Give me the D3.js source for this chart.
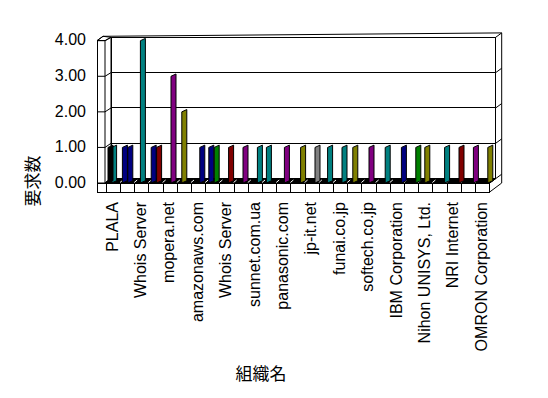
<!DOCTYPE html>
<html>
<head>
<meta charset="utf-8">
<script src="https://cdn.jsdelivr.net/npm/d3@7"></script>
<style>
  body { margin: 0; background: #fff; }
  text { font-family: "Liberation Sans", Arial, sans-serif; fill: #000; }
  .jp { font-family: "Noto Sans CJK JP", sans-serif; }
  .crisp { shape-rendering: crispEdges; }
</style>
</head>
<body>
<div id="chart"></div>
<script>
'use strict';

/*** Data */
/** Every other category gets a label (Excel skips the rest) */
const tickLabels = ["PLALA", "Whois Server", "mopera.net", "amazonaws.com", "Whois Server",
  "sunnet.com.ua", "panasonic.com", "jp-it.net", "funai.co.jp", "softech.co.jp",
  "IBM Corporation", "Nihon UNISYS, Ltd.", "NRI Internet", "OMRON Corporation"];
const categoryCount = 27;
const yTicks = [0, 1, 2, 3, 4];

/** Series, front row to back row (values per category) */
const series0 = [1,1,0,1,0,0,0,1,0,0,0,1,0,0,0,0,0,1,0,0,0,0,1,0,0,0,0];
const series1 = [0,0,0,0,0,2,0,0,0,0,0,0,0,0,0,0,0,0,1,0,0,0,0,0,0,0,0];
const series2 = [1,0,4,0,0,0,0,0,0,0,0,0,1,0,0,1,1,0,0,1,0,0,0,0,0,0,0];
const series3 = [0,1,0,1,3,0,1,1,1,1,1,0,0,1,1,0,0,0,0,0,1,1,0,1,1,1,1];

/** Bar colours (style table, same shape as the series) */
const K = "#000000", N = "#000080", T = "#008080", M = "#800000",
      P = "#800080", O = "#808000", G = "#008000", Y = "#808080";
const colours0 = [K,N,K,N,K,K,K,N,K,K,K,T,K,K,K,K,K,O,K,K,K,K,O,K,K,K,K];
const colours1 = [K,K,K,K,K,O,K,K,K,K,K,K,K,K,K,K,K,K,P,K,K,K,K,K,K,K,K];
const colours2 = [T,K,T,K,K,K,K,K,K,K,K,K,P,K,K,T,T,K,K,T,K,K,K,K,K,K,K];
const colours3 = [K,N,K,M,P,K,N,G,M,P,T,K,K,O,Y,K,K,K,K,K,N,G,K,T,M,P,O];

const seriesList = [series3, series2, series1, series0];
const colourList = [colours3, colours2, colours1, colours0];
const depthSlot = [3, 2, 1, 0];

/*** Layout */
const w = 548;
const h = 398;
const depth = [6, -4.4];
const slotStep = 1.8;
const barW = 5;
const barSlant = 2.3;

const svg = d3.select("#chart")
  .append("svg")
  .attr("width", w)
  .attr("height", h);

const cats = d3.range(categoryCount);
const xFront = d3.scaleBand().domain(cats).range([106.3, 489.7]);
const xBar = d3.scaleBand().domain(cats).range([108, 496.8]);
const yFront = d3.scaleLinear().domain([0, 4]).range([183, 40.7]);
const yBack = d3.scaleLinear().domain([0, 4]).range([178.6, 37.3]);

const wallL = 97, wallR = 105;
const backL = wallR + depth[0], backR = 495.7;
const line = d3.line();

/** Back wall */
svg.append("rect")
  .attr("class", "crisp")
  .attr("x", backL).attr("y", yBack(4))
  .attr("width", backR - backL).attr("height", yBack(0) - yBack(4))
  .attr("fill", "#fff").attr("stroke", "#000");

svg.append("g").attr("class", "crisp").selectAll("line")
  .data(yTicks.slice(1))
  .join("line")
  .attr("x1", backL).attr("x2", backR)
  .attr("y1", d => yBack(d)).attr("y2", d => yBack(d))
  .attr("stroke", "#000");

/** Back wall top and right thickness */
svg.append("path")
  .attr("d", line([[wallL, yFront(4)], [wallL + depth[0], yFront(4) + depth[1]],
                   [backR + depth[0], yBack(4) + depth[1]], [backR + depth[0], yFront(0)],
                   [xFront.range()[1], yFront(0) + 9]]))
  .attr("fill", "none").attr("stroke", "#000");

svg.append("g").selectAll("line")
  .data(yTicks)
  .join("line")
  .attr("x1", backR).attr("x2", backR + depth[0])
  .attr("y1", d => yBack(d)).attr("y2", d => yBack(d) + depth[1])
  .attr("stroke", "#000");

/** Left wall: front face and inner face */
svg.append("rect")
  .attr("class", "crisp")
  .attr("x", wallL).attr("y", yFront(4))
  .attr("width", wallR - wallL).attr("height", yFront(0) + 9 - yFront(4))
  .attr("fill", "#fff").attr("stroke", "#000");

svg.append("path")
  .attr("d", line([[wallR, yFront(4)], [backL, yBack(4)], [backL, yBack(0)], [wallR, yFront(0)]]) + "Z")
  .attr("fill", "#fff").attr("stroke", "#000");

svg.append("path")
  .attr("d", line([[wallL, yFront(4)], [wallL + depth[0], yFront(4) + depth[1]], [backL, yBack(4)]]))
  .attr("fill", "none").attr("stroke", "#000");

svg.append("g").selectAll("path")
  .data(yTicks)
  .join("path")
  .attr("d", d => line([[wallL, yFront(d)], [wallR, yFront(d)], [backL, yBack(d)]]))
  .attr("fill", "none").attr("stroke", "#000");

/** Floor: dark top strip and front row of category cells */
svg.append("path")
  .attr("d", line([[wallR, yFront(0)], [backL, yBack(0)], [backR, yBack(0)], [xFront.range()[1], yFront(0)]]) + "Z")
  .attr("fill", "#000").attr("stroke", "#000");

svg.append("g").selectAll("line")
  .data(cats.slice(1))
  .join("line")
  .attr("x1", d => xFront(d) - 0.5).attr("y1", yFront(0) - 0.5)
  .attr("x2", d => xFront(d) + 2.5).attr("y2", yFront(0) - 3)
  .attr("stroke", "#fff");

svg.append("rect")
  .attr("class", "crisp")
  .attr("x", wallL).attr("y", yFront(0))
  .attr("width", xFront.range()[1] - wallL).attr("height", 9)
  .attr("fill", "#fff").attr("stroke", "#000");

svg.append("g").attr("class", "crisp").selectAll("line")
  .data(cats)
  .join("line")
  .attr("x1", d => xFront(d)).attr("x2", d => xFront(d))
  .attr("y1", yFront(0)).attr("y2", yFront(0) + 9)
  .attr("stroke", "#000");

svg.append("line")
  .attr("x1", xFront.range()[1]).attr("y1", yFront(0))
  .attr("x2", backR).attr("y2", yBack(0))
  .attr("stroke", "#000");

/** Bars, back row first */
seriesList.forEach((vals, s) => {
  const slot = depthSlot[s];
  svg.append("g").selectAll("path")
    .data(cats.filter(c => vals[c] > 0))
    .join("path")
    .attr("d", c => {
      const x0 = xBar(c) + slot * slotStep;
      const x1 = x0 + barW;
      return line([[x0, yFront(0)], [x0, yFront(vals[c])],
                   [x1, yFront(vals[c]) - barSlant], [x1, yFront(0) - barSlant]]) + "Z";
    })
    .attr("fill", c => colourList[s][c])
    .attr("stroke", "#000")
    .attr("stroke-width", 1);
});

/** Y axis labels */
svg.append("g").selectAll("text")
  .data(yTicks)
  .join("text")
  .attr("x", 86)
  .attr("y", d => yFront(d) + 0.5)
  .attr("text-anchor", "end")
  .attr("dominant-baseline", "middle")
  .style("font-size", "16px")
  .text(d3.format(".2f"));

/** X axis labels, every second category */
svg.append("g").selectAll("text")
  .data(tickLabels)
  .join("text")
  .attr("transform", (d, i) => `translate(${xFront(i * 2) + xFront.bandwidth() / 2},202) rotate(-90)`)
  .attr("text-anchor", "end")
  .attr("dominant-baseline", "middle")
  .style("font-size", "16px")
  .text(d => d);

/** Axis titles */
svg.append("text")
  .attr("class", "jp")
  .attr("transform", "translate(34,181) rotate(-90)")
  .attr("text-anchor", "middle")
  .attr("dominant-baseline", "middle")
  .style("font-size", "17px")
  .text("要求数");

svg.append("text")
  .attr("class", "jp")
  .attr("x", 261).attr("y", 375)
  .attr("text-anchor", "middle")
  .attr("dominant-baseline", "middle")
  .style("font-size", "17px")
  .text("組織名");
</script>
</body>
</html>
